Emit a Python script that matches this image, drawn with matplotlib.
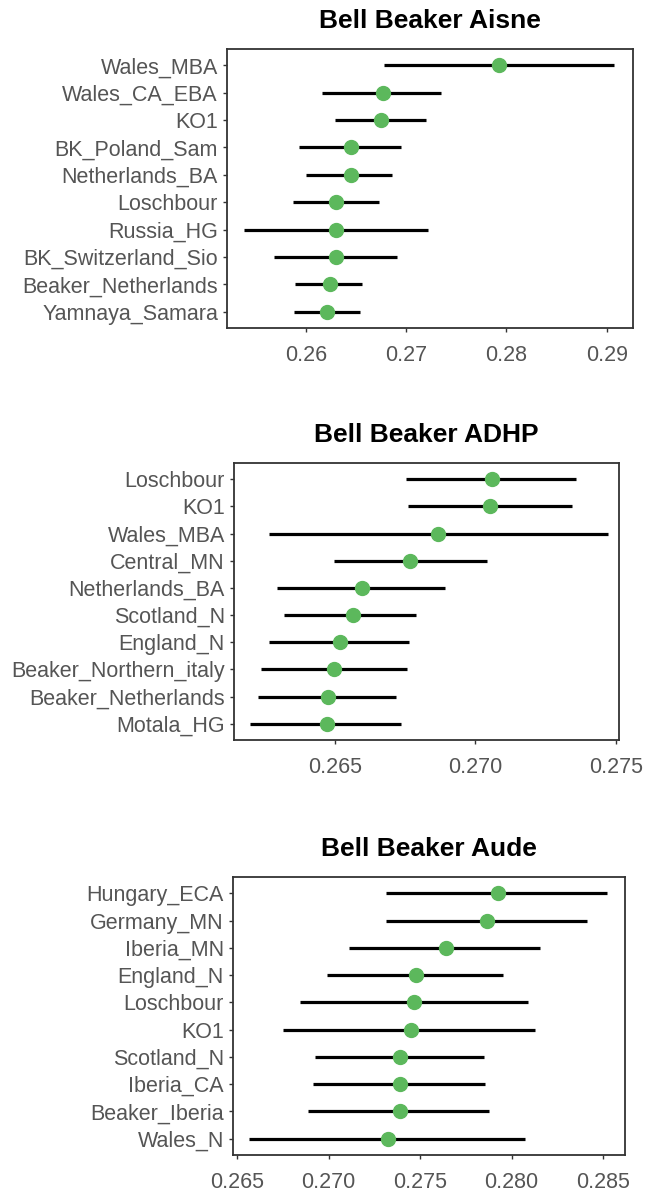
import matplotlib
matplotlib.use("Agg")
import matplotlib.pyplot as plt

plt.rcParams['font.family'] = ['Liberation Sans', 'DejaVu Sans']

# Panel 1: Bell Beaker Aisne
aisne_labels = ["Wales_MBA", "Wales_CA_EBA", "KO1", "BK_Poland_Sam", "Netherlands_BA",
                "Loschbour", "Russia_HG", "BK_Switzerland_Sio", "Beaker_Netherlands", "Yamnaya_Samara"]
aisne_est = [0.2793, 0.2677, 0.26751, 0.26452, 0.26452, 0.26305, 0.26305, 0.26305, 0.26239, 0.26216]
aisne_lo = [0.2678, 0.26166, 0.26292, 0.25933, 0.26003, 0.2587, 0.25385, 0.25687, 0.2589, 0.25883]
aisne_hi = [0.2907, 0.27352, 0.27196, 0.2695, 0.26864, 0.26734, 0.27216, 0.26913, 0.26561, 0.26545]
aisne_ticks = [0.26, 0.27, 0.28, 0.29]
aisne_ticklabels = ["0.26", "0.27", "0.28", "0.29"]

# Panel 2: Bell Beaker ADHP
adhp_labels = ["Loschbour", "KO1", "Wales_MBA", "Central_MN", "Netherlands_BA", "Scotland_N",
               "England_N", "Beaker_Northern_italy", "Beaker_Netherlands", "Motala_HG"]
adhp_est = [0.27058, 0.27052, 0.26868, 0.26767, 0.26595, 0.26563, 0.26518, 0.26498, 0.26476, 0.2647]
adhp_lo = [0.26753, 0.26759, 0.26265, 0.26495, 0.26292, 0.26319, 0.26266, 0.26235, 0.26225, 0.26197]
adhp_hi = [0.27358, 0.27343, 0.27474, 0.2704, 0.26892, 0.26787, 0.26765, 0.26758, 0.26718, 0.26734]
adhp_ticks = [0.265, 0.270, 0.275]
adhp_ticklabels = ["0.265", "0.270", "0.275"]

# Panel 3: Bell Beaker Aude
aude_labels = ["Hungary_ECA", "Germany_MN", "Iberia_MN", "England_N", "Loschbour", "KO1",
               "Scotland_N", "Iberia_CA", "Beaker_Iberia", "Wales_N"]
aude_est = [0.27923, 0.27863, 0.2764, 0.2748, 0.27469, 0.27448, 0.27389, 0.27389, 0.27389, 0.27322]
aude_lo = [0.27311, 0.27311, 0.27112, 0.26992, 0.26846, 0.26751, 0.26925, 0.26915, 0.26888, 0.26564]
aude_hi = [0.28522, 0.28409, 0.28154, 0.27954, 0.2809, 0.28127, 0.27848, 0.27857, 0.27875, 0.28072]
aude_ticks = [0.265, 0.270, 0.275, 0.280, 0.285]
aude_ticklabels = ["0.265", "0.270", "0.275", "0.280", "0.285"]

titles = ["Bell Beaker Aisne", "Bell Beaker ADHP", "Bell Beaker Aude"]

W, H = 646, 1194
fig = plt.figure(figsize=(W / 100, H / 100), dpi=100)

def frac(left, top, right, bottom):
    return [left / W, 1 - bottom / H, (right - left) / W, (bottom - top) / H]

panels = [
    (frac(227, 49, 633, 328), (0.25215, 0.29262), aisne_labels, aisne_est, aisne_lo, aisne_hi,
     aisne_ticks, aisne_ticklabels, titles[0]),
    (frac(234, 463, 619, 740), (0.2614, 0.27512), adhp_labels, adhp_est, adhp_lo, adhp_hi,
     adhp_ticks, adhp_ticklabels, titles[1]),
    (frac(233, 877, 625, 1155), (0.26478, 0.28619), aude_labels, aude_est, aude_lo, aude_hi,
     aude_ticks, aude_ticklabels, titles[2]),
]

label_color = "#555555"
green = "#5cb85c"

for rect, xlim, labels, est, lo, hi, ticks, ticklabels, title in panels:
    ax = fig.add_axes(rect)
    ypos = list(range(len(labels)))
    ax.hlines(ypos, lo, hi, color="black", linewidth=2.3, zorder=2)
    ax.plot(est, ypos, linestyle="none", marker="o", markersize=10,
            color=green, markeredgecolor=green, zorder=3)
    ax.set_xlim(*xlim)
    ax.set_ylim(len(labels) - 1 + 0.6, -0.6)
    ax.set_yticks(ypos)
    ax.set_yticklabels(labels)
    ax.set_xticks(ticks)
    ax.set_xticklabels(ticklabels)
    ax.tick_params(axis="both", colors="#333333", labelcolor=label_color,
                   labelsize=15.5, length=3, width=1.0)
    ax.tick_params(axis="y", pad=3.5)
    ax.tick_params(axis="x", pad=9)
    for s in ax.spines.values():
        s.set_color("#333333")
        s.set_linewidth(1.3)
    ax.set_title(title, fontsize=19, fontweight="bold", color="black", pad=15)

fig.savefig("out.png", dpi=100)
